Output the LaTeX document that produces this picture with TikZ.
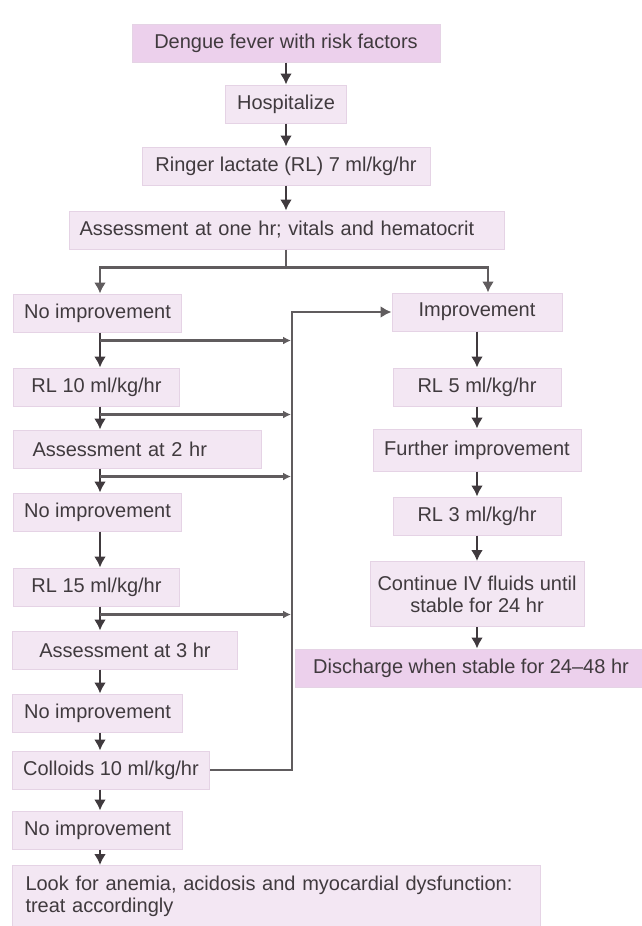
\documentclass[tikz,border=0pt]{standalone}
\usepackage{fontspec}
\setmainfont{Liberation Sans}
\usepackage{tikz}
\usetikzlibrary{arrows.meta, positioning, calc}
\usepackage{xcolor}
\definecolor{boxfill}{RGB}{243,231,243}
\definecolor{boxpink}{RGB}{236,208,236}
\definecolor{boxedge}{RGB}{229,211,229}
\definecolor{ink}{RGB}{64,58,62}
\definecolor{wirecol}{RGB}{96,92,94}

\begin{document}
\begin{tikzpicture}[x=1pt,y=-1pt,
	box/.style={rectangle,fill=boxfill,draw=boxedge,line width=1pt,text=ink,minimum height=38pt,inner sep=0pt,font=\fontsize{20}{22}\selectfont},
	hibox/.style={box,fill=boxpink},
	arr/.style={-{Latex[length=11pt,width=12pt]},line width=2.2pt,draw=ink},
	branch/.style={-{Latex[length=8pt,width=8pt]},line width=2.8pt,draw=wirecol},
	trunk/.style={line width=2.8pt,draw=wirecol}]
	\useasboundingbox (0,0) rectangle (642,926);
		% main stem
		\node[hibox,minimum width=308pt] (fever) at (286,43) {Dengue fever with risk factors};
		\node[box,minimum width=121pt] (hosp) at (286,104) {Hospitalize};
		\node[box,minimum width=288pt] (ringer) at (286,166) {Ringer lactate (RL) 7 ml/kg/hr};
		\node[box,anchor=west,text width=415pt,inner xsep=10pt,align=left] (assess1) at (69,230) {Assessment at one hr; vitals and hematocrit};
		% left column
		\node[box,anchor=west,minimum width=168pt] (noimp1) at (13,313) {No improvement};
		\node[box,anchor=west,minimum width=166pt] (rl10) at (13,387) {RL 10 ml/kg/hr};
		\node[box,anchor=west,text width=210pt,inner xsep=19pt,align=left] (assess2) at (13,449) {Assessment at 2 hr};
		\node[box,anchor=west,minimum width=168pt] (noimp2) at (13,512) {No improvement};
		\node[box,anchor=west,minimum width=166pt] (rl15) at (13,587) {RL 15 ml/kg/hr};
		\node[box,anchor=west,minimum width=225pt] (assess3) at (12,650) {Assessment at 3 hr};
		\node[box,anchor=west,minimum width=170pt] (noimp3) at (12,713) {No improvement};
		\node[box,anchor=west,minimum width=197pt] (colloids) at (12,770) {Colloids 10 ml/kg/hr};
		\node[box,anchor=west,minimum width=170pt] (noimp4) at (12,830) {No improvement};
		\node[box,anchor=north west,text width=502pt,inner xsep=13pt,align=left,minimum height=62pt] (look) at (12,865) {Look for anemia, acidosis and myocardial dysfunction:\\treat accordingly};
		% right column
		\node[box,minimum width=170pt] (imp) at (477,312) {Improvement};
		\node[box,minimum width=168pt] (rl5) at (477,387) {RL 5 ml/kg/hr};
		\node[box,minimum width=208pt,minimum height=42pt] (further) at (477,450) {Further improvement};
		\node[box,minimum width=168pt] (rl3) at (477,516) {RL 3 ml/kg/hr};
		\node[box,minimum width=214pt,minimum height=65pt,align=center] (cont) at (477,594) {Continue IV fluids until\\stable for 24 hr};
		\node[hibox,minimum width=352pt] (discharge) at (471,668) {Discharge when stable for 24--48 hr};
		% connectors
		\coordinate (lx) at (100,0); \coordinate (col) at (292,0); \coordinate (rx) at (488,0);
		\draw[arr] (fever) -- (hosp);
		\draw[arr] (hosp) -- (ringer);
		\draw[arr] (ringer.south) -- (ringer.south |- assess1.north);
		\draw[trunk] (assess1.south -| fever) -- ++(0,18) coordinate (split);
		\draw[arr,draw=wirecol,line width=2.8pt] (split) -| (lx |- noimp1.north);
		\draw[arr,draw=wirecol,line width=2.8pt] (split) -| (rx |- imp.north);
		\foreach \a/\b in {noimp1/rl10,rl10/assess2,assess2/noimp2,noimp2/rl15,rl15/assess3,assess3/noimp3,noimp3/colloids,colloids/noimp4,noimp4/look}{\draw[arr] (lx |- \a.south) -- (lx |- \b.north);}
		\foreach \a in {noimp1,rl10,assess2,rl15}{\draw[branch,shorten >=1pt] ($(lx |- \a.south)+(0,8)$) -- ($(col |- \a.south)+(0,8)$);}
		\draw[arr,draw=wirecol,line width=2.8pt] (colloids.east) -- (col |- colloids.east) -- (col |- imp.west) -- (imp.west);
		\foreach \a/\b in {imp/rl5,rl5/further,further/rl3,rl3/cont}{\draw[arr] (\a) -- (\b);}
		\draw[arr] (cont.south) -- (cont.south |- discharge.north);
	\end{tikzpicture}
\end{document}
